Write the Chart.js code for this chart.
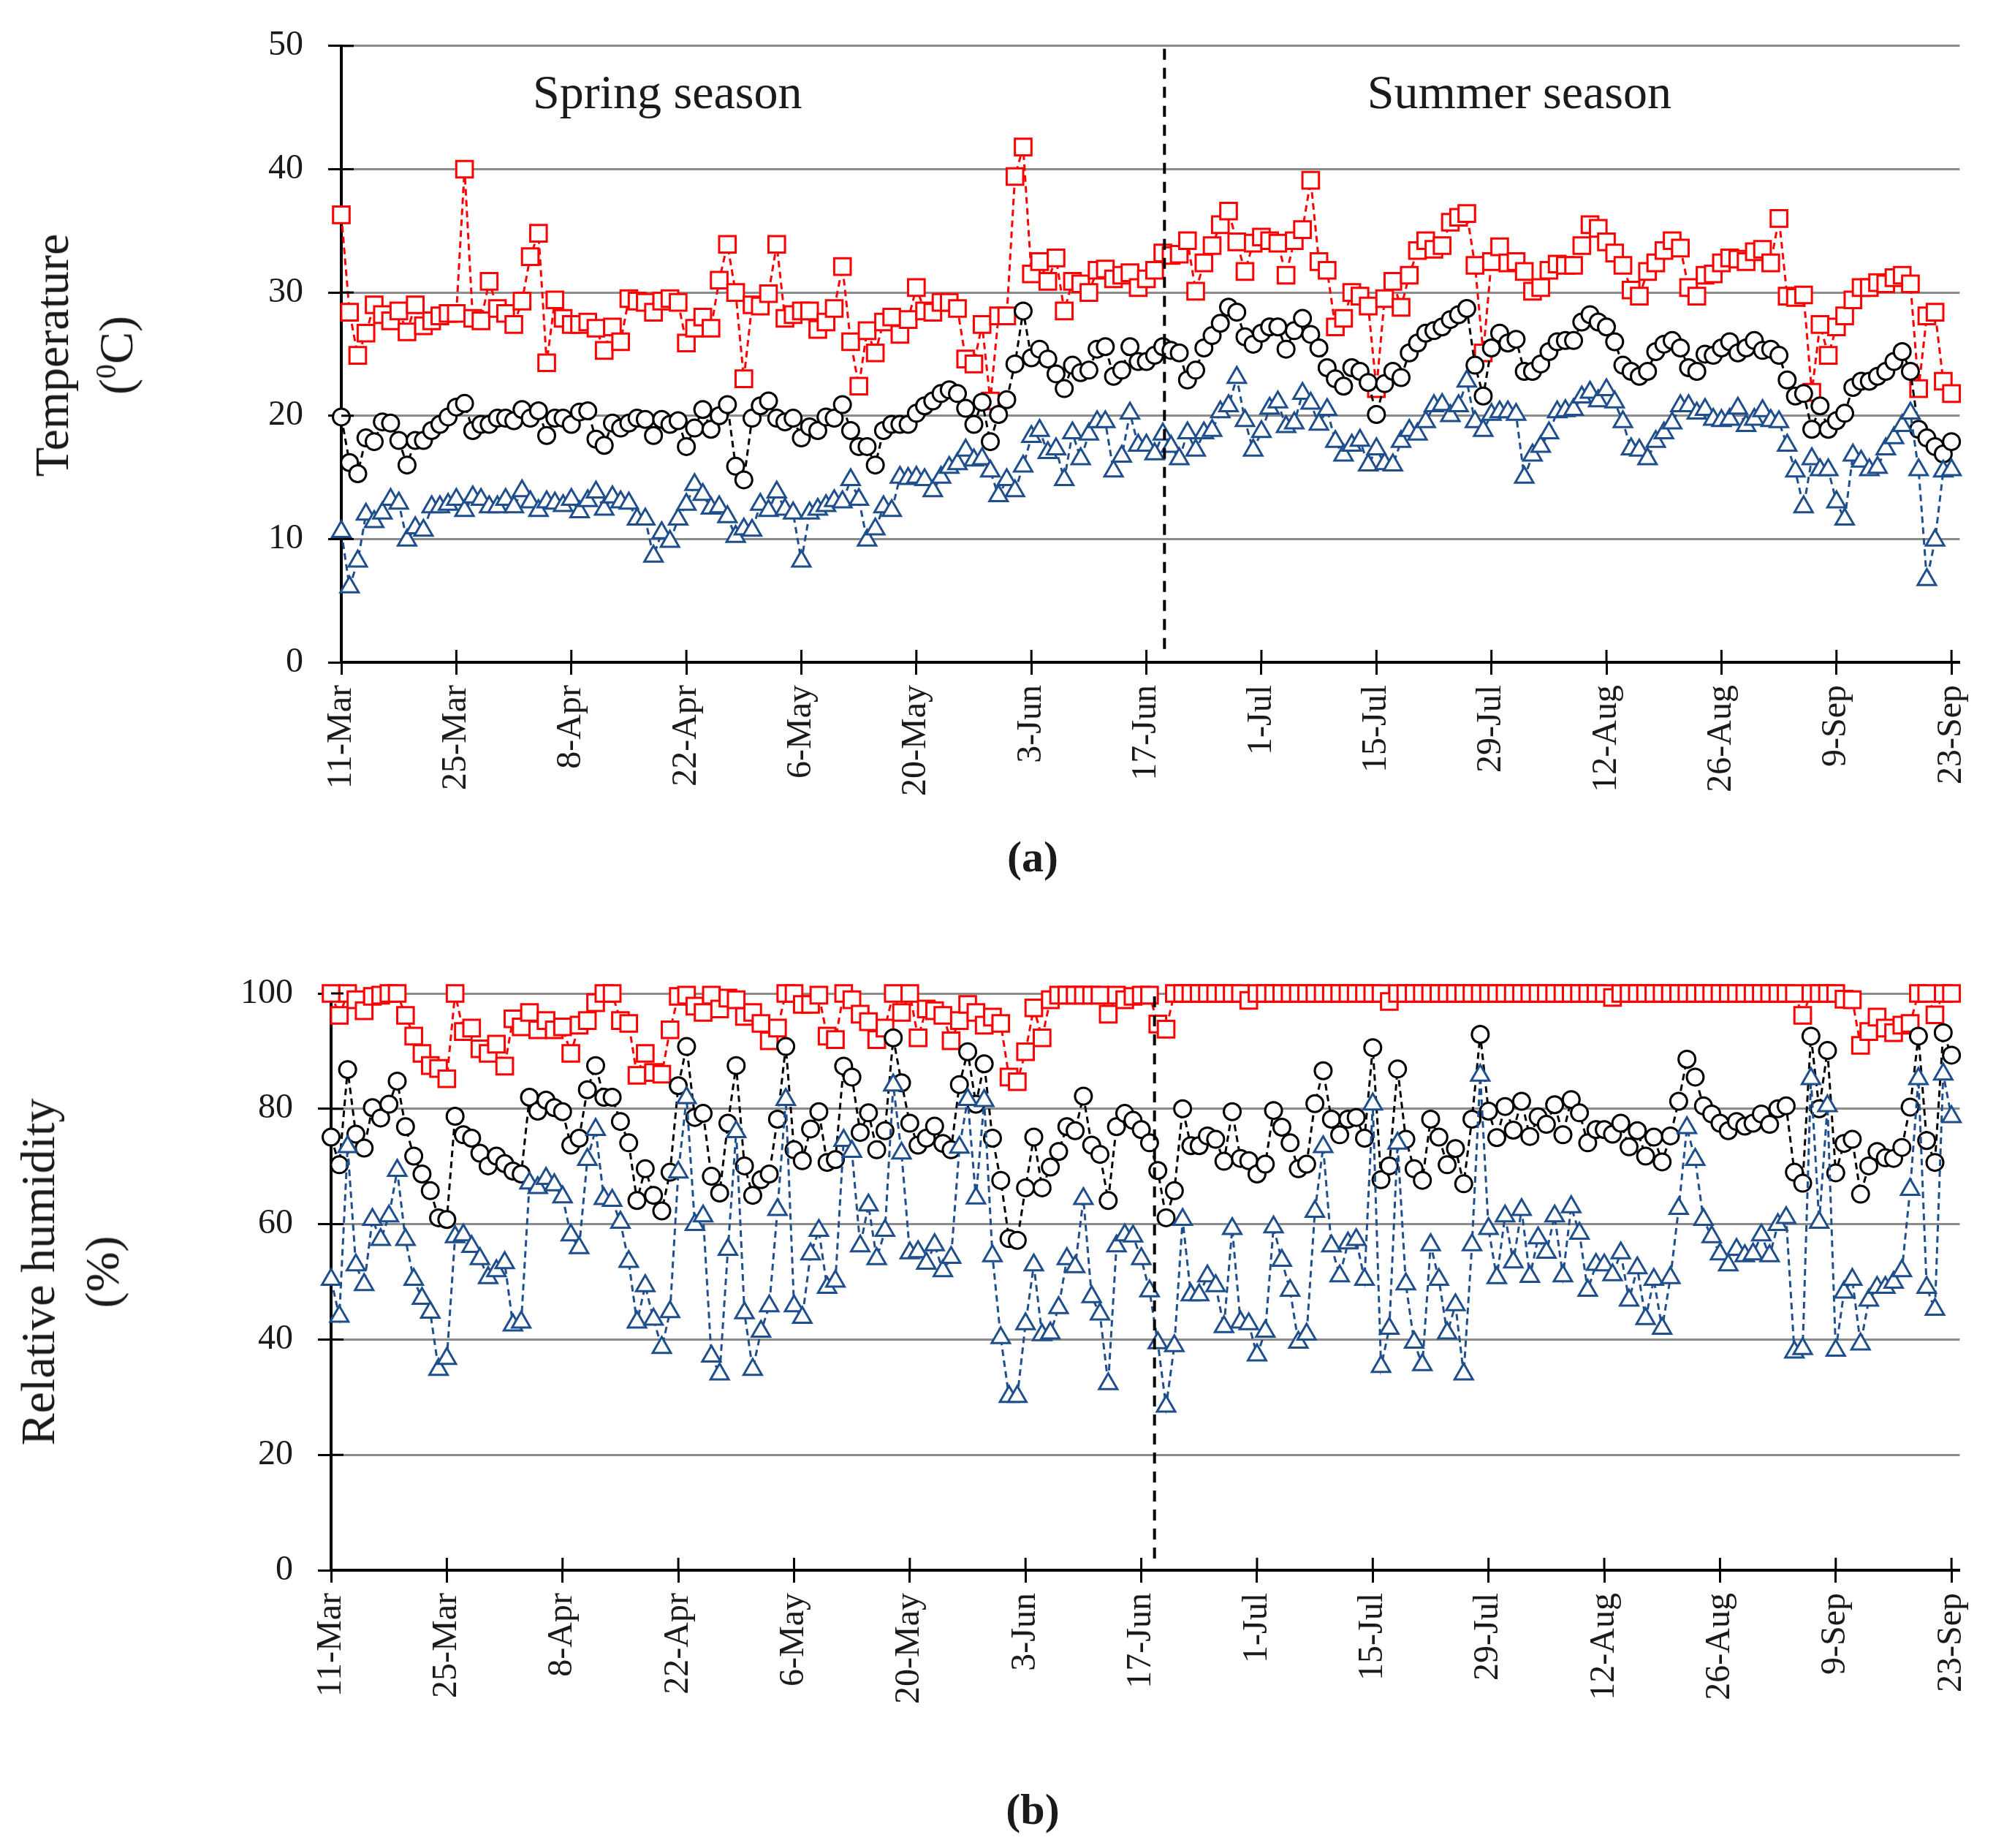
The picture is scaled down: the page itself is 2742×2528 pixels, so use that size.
<!DOCTYPE html>
<html>
<head>
<meta charset="utf-8">
<script src="https://cdn.jsdelivr.net/npm/chart.js@4.4.1/dist/chart.umd.min.js"></script>
<style>
  html, body { margin: 0; padding: 0; background: #fff; }
  body { width: 2742px; height: 2528px; position: relative; overflow: hidden; font-family: "Liberation Serif", serif; color: #1a1a1a; }
  canvas { position: absolute; left: 0; }
  #chartA { top: 0; width: 2742px; height: 1130px; }
  #chartB { top: 1250px; width: 2742px; height: 1150px; }
  .ytitle { position: absolute; transform: translate(-50%, -50%) rotate(-90deg); text-align: center; font-size: 66px; line-height: 88px; white-space: nowrap; }
  .ytitle sup { font-size: 0.6em; line-height: 0; }
  .panel { position: absolute; transform: translate(-50%, -50%); font-size: 60px; font-weight: bold; }
</style>
</head>
<body>
<canvas id="chartA" width="2742" height="1130"></canvas>
<canvas id="chartB" width="2742" height="1150"></canvas>
<div class="ytitle" style="left:115px; top:486px;">Temperature<br>(<sup>0</sup>C)</div>
<div class="ytitle" style="left:96px; top:1740px;">Relative humidity<br>(%)</div>
<div class="panel" style="left:1413px; top:1172px;">(a)</div>
<div class="panel" style="left:1413px; top:2475px;">(b)</div>
<script>
// daily series, 11-Mar (day 0) .. 23-Sep (day 196)
const DATE_TICKS = ["11-Mar", "25-Mar", "8-Apr", "22-Apr", "6-May", "20-May", "3-Jun", "17-Jun",
                    "1-Jul", "15-Jul", "29-Jul", "12-Aug", "26-Aug", "9-Sep", "23-Sep"];
const TICK_STEP = 14;
const SEASONS = ["Spring season", "Summer season"];

const T_MAX = [
  36.3, 28.4, 24.9, 26.7, 29.0, 28.2, 27.7, 28.5, 26.8, 29.0,
  27.3, 27.7, 28.1, 28.3, 28.3, 40.0, 27.9, 27.7, 30.9, 28.7,
  28.3, 27.4, 29.3, 32.9, 34.8, 24.3, 29.4, 27.9, 27.4, 27.4,
  27.6, 27.1, 25.3, 27.2, 26.0, 29.5, 29.3, 29.2, 28.4, 29.3,
  29.5, 29.2, 25.9, 27.1, 28.0, 27.1, 31.0, 33.9, 30.0, 23.0,
  29.0, 28.9, 29.9, 33.9, 27.9, 28.2, 28.5, 28.5, 27.0, 27.6,
  28.7, 32.1, 26.0, 22.4, 26.9, 25.1, 27.6, 28.0, 26.6, 27.8,
  30.4, 28.5, 28.4, 29.2, 29.2, 28.7, 24.6, 24.2, 27.4, 21.2,
  28.1, 28.1, 39.4, 41.8, 31.5, 32.5, 30.9, 32.8, 28.5, 30.9,
  30.7, 30.0, 31.8, 31.9, 31.1, 31.4, 31.6, 30.4, 31.1, 31.8,
  33.2, 33.0, 33.1, 34.2, 30.1, 32.4, 33.8, 35.5, 36.6, 34.1,
  31.7, 34.0, 34.5, 34.2, 34.0, 31.4, 34.2, 35.1, 39.1, 32.5,
  31.8, 27.2, 27.9, 30.0, 29.7, 28.9, 22.2, 29.5, 30.9, 28.8,
  31.4, 33.4, 34.2, 33.5, 33.8, 35.7, 36.1, 36.4, 32.2, 25.1,
  32.5, 33.7, 32.4, 32.5, 31.7, 30.1, 30.4, 31.8, 32.3, 32.2,
  32.2, 33.8, 35.5, 35.2, 34.1, 33.2, 32.2, 30.2, 29.7, 31.7,
  32.4, 33.4, 34.2, 33.6, 30.4, 29.7, 31.4, 31.5, 32.4, 32.8,
  32.7, 32.5, 33.3, 33.5, 32.4, 36.0, 29.7, 29.6, 29.8, 21.9,
  27.4, 24.9, 27.2, 28.1, 29.4, 30.4, 30.4, 30.8, 30.7, 31.2,
  31.4, 30.7, 22.2, 28.1, 28.4, 22.8, 21.8
];
const T_MEAN = [
  19.9, 16.2, 15.3, 18.2, 17.9, 19.5, 19.4, 18.0, 16.0, 18.0,
  18.0, 18.8, 19.3, 19.9, 20.7, 21.0, 18.8, 19.3, 19.3, 19.8,
  19.8, 19.6, 20.5, 19.8, 20.4, 18.4, 19.8, 19.8, 19.3, 20.3,
  20.4, 18.1, 17.6, 19.4, 19.0, 19.4, 19.8, 19.7, 18.4, 19.7,
  19.3, 19.6, 17.5, 19.0, 20.5, 18.9, 20.0, 20.9, 15.9, 14.8,
  19.8, 20.8, 21.2, 19.8, 19.5, 19.8, 18.2, 19.1, 18.8, 19.9,
  19.8, 20.9, 18.8, 17.5, 17.5, 16.0, 18.8, 19.3, 19.3, 19.3,
  20.2, 20.8, 21.2, 21.8, 22.1, 21.8, 20.6, 19.3, 21.1, 17.9,
  20.1, 21.3, 24.2, 28.5, 24.7, 25.4, 24.6, 23.4, 22.2, 24.1,
  23.5, 23.7, 25.4, 25.6, 23.2, 23.7, 25.6, 24.4, 24.4, 24.9,
  25.6, 25.3, 25.1, 22.9, 23.7, 25.5, 26.5, 27.5, 28.8, 28.4,
  26.4, 25.8, 26.7, 27.2, 27.2, 25.4, 26.9, 27.9, 26.6, 25.5,
  23.9, 23.0, 22.4, 23.9, 23.6, 22.7, 20.1, 22.6, 23.6, 23.1,
  25.1, 25.9, 26.7, 26.9, 27.2, 27.8, 28.2, 28.7, 24.1, 21.6,
  25.5, 26.7, 25.9, 26.2, 23.6, 23.6, 24.2, 25.2, 26.0, 26.1,
  26.1, 27.6, 28.2, 27.6, 27.2, 26.0, 24.1, 23.6, 23.2, 23.6,
  25.2, 25.8, 26.1, 25.5, 23.9, 23.6, 25.0, 24.9, 25.5, 26.0,
  25.1, 25.5, 26.1, 25.3, 25.4, 24.9, 22.9, 21.6, 21.8, 18.9,
  20.8, 18.9, 19.6, 20.2, 22.3, 22.8, 22.8, 23.2, 23.6, 24.4,
  25.2, 23.6, 18.9, 18.2, 17.5, 16.9, 17.9
];
const T_MIN = [
  10.6, 6.1, 8.2, 12.0, 11.4, 12.1, 13.2, 12.9, 9.9, 10.9,
  10.7, 12.6, 12.6, 12.8, 13.2, 12.3, 13.4, 13.2, 12.6, 12.6,
  13.2, 12.6, 13.9, 13.0, 12.3, 13.0, 12.9, 12.7, 13.2, 12.2,
  13.1, 13.8, 12.4, 13.4, 13.0, 12.9, 11.6, 11.6, 8.6, 10.5,
  9.8, 11.6, 12.8, 14.4, 13.6, 12.5, 12.6, 11.8, 10.2, 10.8,
  10.7, 12.8, 12.3, 13.8, 12.4, 12.1, 8.2, 12.1, 12.4, 12.7,
  13.1, 13.0, 14.8, 13.2, 9.9, 10.8, 12.6, 12.3, 15.0, 14.9,
  15.0, 14.8, 13.9, 15.0, 15.8, 16.1, 17.2, 16.4, 16.5, 15.5,
  13.5, 14.8, 13.9, 15.9, 18.3, 18.8, 17.0, 17.3, 14.8, 18.6,
  16.5, 18.5, 19.5, 19.5, 15.5, 16.7, 20.2, 17.6, 17.6, 16.9,
  18.5, 17.5, 16.5, 18.6, 17.2, 18.6, 18.8, 20.3, 20.8, 23.1,
  19.6, 17.2, 18.7, 20.6, 21.1, 19.1, 19.4, 21.8, 21.0, 19.3,
  20.5, 17.9, 16.8, 17.6, 18.0, 16.0, 17.3, 16.1, 16.0, 17.9,
  18.8, 18.5, 19.5, 20.8, 20.9, 20.0, 20.8, 22.8, 19.5, 18.8,
  20.1, 20.3, 20.3, 20.1, 15.0, 16.8, 17.5, 18.6, 20.3, 20.4,
  20.5, 21.5, 21.9, 21.2, 22.1, 21.1, 19.5, 17.3, 17.2, 16.5,
  17.9, 18.6, 19.4, 20.8, 20.8, 20.2, 20.5, 19.7, 19.6, 19.7,
  20.6, 19.2, 19.7, 20.4, 19.6, 19.5, 17.6, 15.5, 12.6, 16.5,
  15.6, 15.6, 13.0, 11.6, 16.8, 16.3, 15.6, 15.8, 17.3, 18.2,
  19.2, 20.2, 15.6, 6.7, 9.9, 15.5, 15.6
];

const RH_MAX = [
  100, 96.2, 100, 98.9, 97.0, 99.5, 99.7, 100, 100, 96.2,
  92.6, 89.6, 87.5, 87.0, 85.2, 100, 93.4, 94.0, 90.4, 89.6,
  91.2, 87.4, 95.6, 94.2, 96.7, 93.7, 95.3, 93.7, 94.2, 89.6,
  94.5, 95.3, 98.4, 100, 100, 95.3, 94.8, 85.8, 89.6, 86.3,
  86.0, 93.7, 99.5, 99.7, 97.8, 96.7, 99.7, 97.3, 99.2, 98.9,
  96.0, 96.7, 94.8, 91.8, 94.0, 100, 100, 98.1, 98.1, 99.7,
  92.6, 92.0, 100, 98.9, 96.4, 95.1, 92.0, 94.0, 100, 96.7,
  100, 92.3, 97.3, 97.0, 96.2, 91.8, 95.3, 98.1, 96.7, 94.5,
  95.9, 94.8, 85.5, 84.7, 89.9, 97.5, 92.3, 98.9, 99.7, 99.7,
  99.7, 99.7, 99.7, 99.7, 96.4, 99.7, 98.9, 99.5, 99.7, 99.7,
  94.7, 93.8, 100, 100, 100, 100, 100, 100, 100, 100,
  100, 98.8, 100, 100, 100, 100, 100, 100, 100, 100,
  100, 100, 100, 100, 100, 100, 100, 100, 98.6, 100,
  100, 100, 100, 100, 100, 100, 100, 100, 100, 100,
  100, 100, 100, 100, 100, 100, 100, 100, 100, 100,
  100, 100, 100, 100, 100, 99.3, 100, 100, 100, 100,
  100, 100, 100, 100, 100, 100, 100, 100, 100, 100,
  100, 100, 100, 100, 100, 100, 100, 100, 96.2, 100,
  100, 100, 100, 99.0, 98.9, 91.0, 93.4, 95.9, 94.0, 93.2,
  94.5, 94.8, 100, 100, 96.3, 100, 100
];
const RH_MEAN = [
  75.1, 70.3, 86.8, 75.6, 73.2, 80.2, 78.4, 80.8, 84.8, 76.9,
  71.8, 68.7, 65.8, 61.1, 60.8, 78.7, 75.5, 74.9, 72.3, 70.1,
  71.8, 70.5, 69.2, 68.7, 82.0, 79.6, 81.5, 80.2, 79.5, 73.7,
  74.9, 83.3, 87.5, 82.0, 82.0, 77.8, 74.1, 64.1, 69.6, 65.0,
  62.3, 69.0, 84.0, 90.8, 78.5, 79.2, 68.3, 65.4, 77.5, 87.5,
  70.1, 65.0, 67.7, 68.7, 78.2, 90.8, 72.9, 71.0, 76.5, 79.5,
  70.7, 71.2, 87.4, 85.5, 75.9, 79.3, 72.9, 76.2, 92.3, 84.5,
  77.5, 73.7, 74.9, 77.0, 74.0, 72.9, 84.2, 89.9, 80.8, 87.8,
  74.9, 67.6, 57.5, 57.2, 66.3, 75.1, 66.3, 69.9, 72.6, 76.9,
  76.2, 82.2, 73.7, 72.1, 64.1, 76.9, 79.2, 78.0, 76.4, 74.1,
  69.3, 61.1, 65.8, 80.0, 73.6, 73.6, 75.3, 74.7, 70.9, 79.5,
  71.4, 71.0, 68.7, 70.4, 79.7, 76.8, 74.1, 69.6, 70.4, 80.9,
  86.6, 78.2, 75.5, 78.2, 78.5, 74.9, 90.6, 67.7, 70.1, 86.9,
  74.7, 69.6, 67.6, 78.2, 75.1, 70.3, 73.1, 67.0, 78.2, 92.9,
  79.6, 75.0, 80.4, 76.3, 81.3, 75.2, 78.6, 77.3, 80.7, 75.5,
  81.6, 79.3, 74.1, 76.4, 76.4, 75.6, 77.5, 73.4, 76.2, 71.8,
  75.1, 70.8, 75.3, 81.3, 88.6, 85.5, 80.5, 79.1, 77.5, 76.2,
  77.8, 77.0, 77.5, 79.1, 77.3, 80.0, 80.5, 69.0, 67.1, 92.6,
  80.0, 90.1, 68.9, 74.0, 74.7, 65.2, 70.1, 72.6, 71.5, 71.4,
  73.3, 80.3, 92.6, 74.5, 70.7, 93.2, 89.3
];
const RH_MIN = [
  50.4, 44.0, 73.4, 52.9, 49.5, 60.8, 57.3, 61.4, 69.3, 57.3,
  50.4, 47.1, 44.7, 34.8, 36.7, 57.8, 58.1, 56.1, 54.0, 50.7,
  51.9, 53.3, 42.5, 43.0, 67.1, 66.3, 67.9, 66.8, 64.7, 58.1,
  55.9, 71.2, 76.4, 64.4, 64.1, 60.3, 53.5, 43.0, 49.3, 43.5,
  38.6, 44.8, 69.0, 81.9, 59.9, 61.4, 37.1, 34.0, 55.6, 76.0,
  44.6, 34.8, 41.4, 45.8, 62.5, 81.6, 45.8, 43.8, 54.8, 58.9,
  49.0, 50.1, 74.5, 72.6, 56.2, 63.3, 54.0, 58.9, 84.1, 72.3,
  55.0, 55.2, 53.2, 56.4, 51.9, 54.2, 73.3, 81.6, 64.5, 81.4,
  54.5, 40.3, 30.1, 30.1, 42.7, 52.9, 40.8, 41.1, 45.5, 54.0,
  52.6, 64.4, 47.4, 44.4, 32.3, 56.2, 58.1, 57.9, 54.0, 48.4,
  39.4, 28.4, 38.9, 60.8, 47.7, 47.7, 51.0, 49.3, 42.2, 59.2,
  43.0, 42.7, 37.3, 41.4, 59.5, 53.7, 48.5, 39.5, 40.9, 62.2,
  73.4, 56.2, 51.0, 56.7, 57.3, 50.4, 80.8, 35.3, 41.9, 74.0,
  49.6, 39.5, 35.6, 56.4, 50.4, 41.1, 46.0, 34.0, 56.4, 85.8,
  59.2, 50.7, 61.4, 53.4, 62.5, 50.9, 57.6, 55.1, 61.4, 51.0,
  63.0, 58.4, 48.5, 53.0, 52.9, 51.2, 55.0, 46.8, 52.4, 43.6,
  50.4, 41.9, 50.7, 62.7, 76.7, 71.2, 60.8, 57.8, 54.8, 52.9,
  55.6, 54.5, 54.8, 58.1, 54.5, 59.9, 61.1, 37.8, 38.4, 85.2,
  60.3, 80.5, 38.1, 48.2, 50.4, 39.2, 46.8, 49.0, 49.0, 49.9,
  51.9, 66.0, 85.2, 49.0, 45.2, 86.0, 78.6
];

const FONT = "Liberation Serif";
const INK = "#1a1a1a";
const RED = "#ff0000", BLACK = "#000000", BLUE = "#1f4e8c";

function series(values, color, style, radius) {
  return {
    data: values.map((v, i) => ({ x: i, y: v })),
    borderColor: color,
    borderWidth: 3,
    borderDash: [9, 6],
    pointStyle: style,
    pointRadius: radius,
    pointBorderColor: color,
    pointBorderWidth: 3,
    pointBackgroundColor: "#fff",
    fill: false,
    tension: 0,
    clip: false
  };
}

// inner tick marks, season divider and season captions
const overlay = {
  id: "overlay",
  afterDraw(chart, args, o) {
    const { ctx, chartArea: a, scales: { x, y } } = chart;
    ctx.save();
    ctx.strokeStyle = "#000";
    ctx.lineWidth = 3;
    y.ticks.forEach(t => {
      const py = y.getPixelForValue(t.value);
      ctx.beginPath(); ctx.moveTo(a.left, py); ctx.lineTo(a.left + 17, py); ctx.stroke();
    });
    x.ticks.forEach(t => {
      const px = x.getPixelForValue(t.value);
      ctx.beginPath(); ctx.moveTo(px, a.bottom); ctx.lineTo(px, a.bottom - 17); ctx.stroke();
    });

    ctx.setLineDash([15, 11]);
    ctx.lineWidth = 4;
    const dx = x.getPixelForValue(o.divider);
    ctx.beginPath(); ctx.moveTo(dx, a.top + 4); ctx.lineTo(dx, a.bottom - 14); ctx.stroke();
    ctx.setLineDash([]);

    if (o.captions) {
      ctx.fillStyle = INK;
      ctx.font = '66px "' + FONT + '"';
      ctx.textAlign = "center";
      ctx.textBaseline = "middle";
      o.captions.forEach(c => ctx.fillText(c.text, x.getPixelForValue(c.x), y.getPixelForValue(c.y)));
    }
    ctx.restore();
  }
};

function makePanel(id, sets, yMax, yStep, box, overlayOpts) {
  return new Chart(document.getElementById(id), {
    type: "line",
    data: { datasets: sets },
    plugins: [overlay],
    options: {
      responsive: false,
      devicePixelRatio: 1,
      animation: false,
      events: [],
      layout: { padding: { top: box.top, right: 50, left: 0, bottom: 0 } },
      plugins: { legend: { display: false }, tooltip: { enabled: false }, overlay: overlayOpts },
      scales: {
        x: {
          type: "linear", min: 0, max: 197,
          afterBuildTicks: s => { s.ticks = DATE_TICKS.map((_, i) => ({ value: i * TICK_STEP })); },
          afterFit: s => { s.height = box.xHeight; },
          ticks: {
            autoSkip: false, maxRotation: 90, minRotation: 90, padding: 14,
            color: INK, font: { family: FONT, size: 48 },
            callback: v => DATE_TICKS[Math.round(v / TICK_STEP)]
          },
          grid: { drawOnChartArea: false, drawTicks: true, tickLength: 17, tickColor: "#000", tickWidth: 3 },
          border: { color: "#000", width: 4 }
        },
        y: {
          min: 0, max: yMax,
          afterFit: s => { s.width = box.yWidth; },
          ticks: { stepSize: yStep, padding: 34, color: INK, font: { family: FONT, size: 48 } },
          grid: { color: "#8c8c8c", lineWidth: 3, tickLength: 18, tickColor: "#000", tickWidth: 3 },
          border: { color: "#000", width: 4 }
        }
      }
    }
  });
}

makePanel("chartA",
  [series(T_MIN, BLUE, "triangle", 14.4), series(T_MEAN, BLACK, "circle", 11.5), series(T_MAX, RED, "rect", 16)],
  50, 10,
  { top: 61, xHeight: 224, yWidth: 467 },
  { divider: 100.2, captions: [{ text: SEASONS[0], x: 39.7, y: 46 }, { text: SEASONS[1], x: 143.4, y: 46 }] });

makePanel("chartB",
  [series(RH_MIN, BLUE, "triangle", 14.4), series(RH_MEAN, BLACK, "circle", 11.5), series(RH_MAX, RED, "rect", 16)],
  100, 20,
  { top: 109, xHeight: 252, yWidth: 453 },
  { divider: 99.6 });
</script>
</body>
</html>
